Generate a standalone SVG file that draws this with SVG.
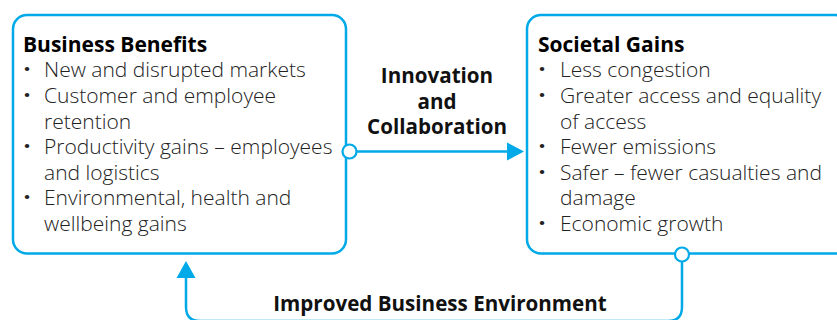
<svg xmlns="http://www.w3.org/2000/svg" width="837" height="320" viewBox="0 0 837 320">
<defs>
<style>
.box{fill:#fff;stroke:#00A9E8;stroke-width:2.5}
.ln{fill:none;stroke:#00A9E8;stroke-width:2.5}
.dot{fill:#fff;stroke:#00A9E8;stroke-width:2.2}
.ttl{font-family:"Open Sans","Liberation Sans",sans-serif;font-weight:700;font-size:21px;fill:#000}
.lbl{font-family:"Open Sans","Liberation Sans",sans-serif;font-weight:700;font-size:20.6px;fill:#111;text-anchor:middle}
.it{font-family:"Open Sans","Liberation Sans",sans-serif;font-weight:300;font-size:21px;fill:#222}
.bu{font-weight:800}
</style>
</defs>
<g id="connectors">
<path class="ln" d="M357,151.5 H508"/>
<path d="M507,142.5 L524,151.5 L507,160.5 z" fill="#00A9E8"/>
<path class="ln" d="M682,261 V307 Q682,321 668,321 H200 Q186,321 186,307 V277"/>
<path d="M176.5,278 L186,261 L195.5,278 z" fill="#00A9E8"/>
</g>
<g id="business-benefits">
<rect class="box" x="13" y="15" width="333" height="238.5" rx="14"/>
<text class="ttl" x="23" y="52">Business Benefits</text>
<text class="it">
<tspan class="bu" x="24" y="77">·</tspan><tspan x="44" y="77">New and disrupted markets</tspan>
<tspan class="bu" x="24" y="103">·</tspan><tspan x="44" y="103">Customer and employee</tspan>
<tspan x="44" y="128.5">retention</tspan>
<tspan class="bu" x="24" y="154">·</tspan><tspan x="44" y="154">Productivity gains – employees</tspan>
<tspan x="44" y="179.5">and logistics</tspan>
<tspan class="bu" x="24" y="205">·</tspan><tspan x="44" y="205">Environmental, health and</tspan>
<tspan x="44" y="230.5">wellbeing gains</tspan>
</text>
</g>
<g id="societal-gains">
<rect class="box" x="527" y="15" width="322" height="238.5" rx="14"/>
<text class="ttl" x="538" y="52">Societal Gains</text>
<text class="it">
<tspan class="bu" x="539" y="77">·</tspan><tspan x="560" y="77">Less congestion</tspan>
<tspan class="bu" x="539" y="103">·</tspan><tspan x="560" y="103">Greater access and equality</tspan>
<tspan x="560" y="128.5">of access</tspan>
<tspan class="bu" x="539" y="154">·</tspan><tspan x="560" y="154">Fewer emissions</tspan>
<tspan class="bu" x="539" y="179.5">·</tspan><tspan x="560" y="179.5">Safer – fewer casualties and</tspan>
<tspan x="560" y="205">damage</tspan>
<tspan class="bu" x="539" y="230.5">·</tspan><tspan x="560" y="230.5">Economic growth</tspan>
</text>
</g>
<g id="dots">
<circle class="dot" cx="349.5" cy="151.5" r="7"/>
<circle class="dot" cx="682" cy="254.5" r="7"/>
</g>
<g id="labels">
<text class="lbl" x="437" y="83">Innovation</text>
<text class="lbl" x="437" y="108.5">and</text>
<text class="lbl" x="437" y="134">Collaboration</text>
<text class="lbl" x="440" y="311">Improved Business Environment</text>
</g>
</svg>
